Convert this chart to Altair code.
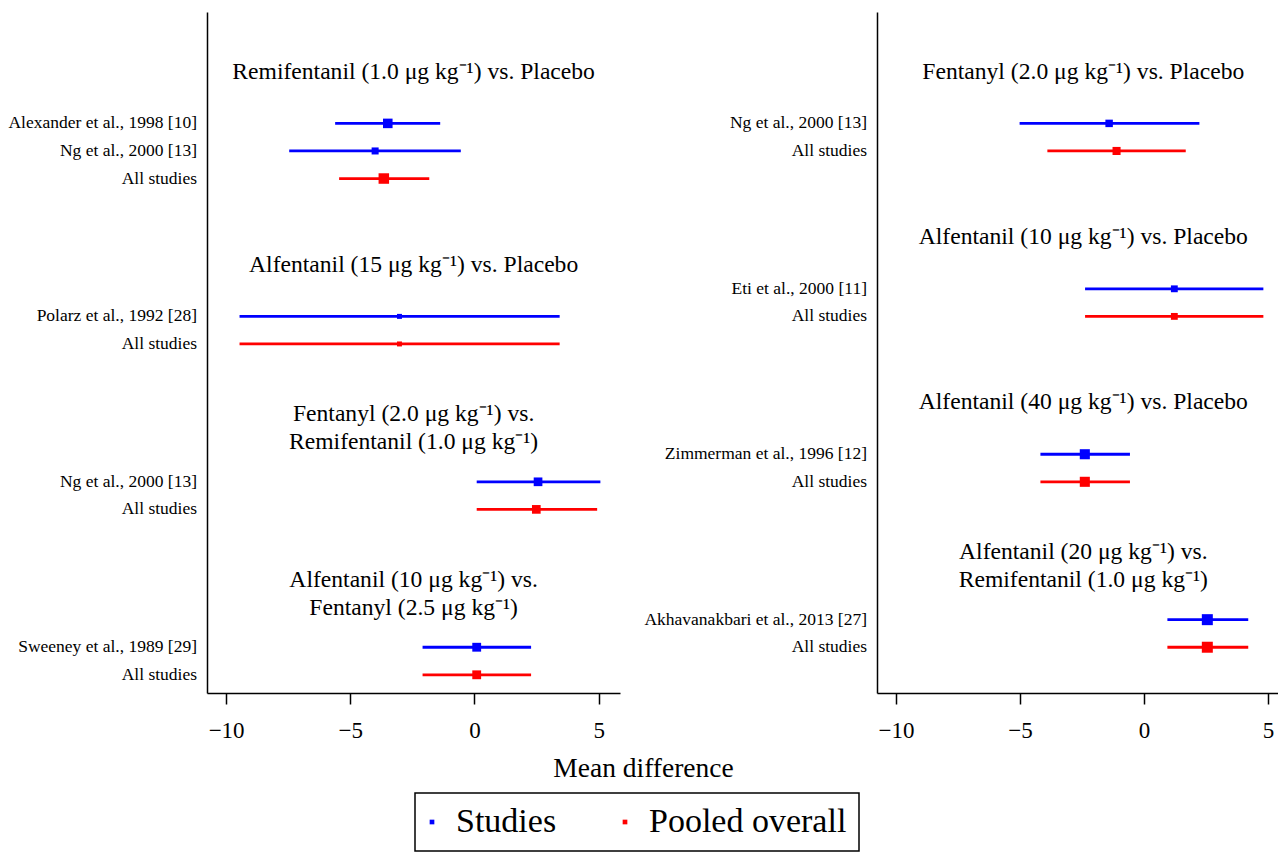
import altair as alt
import pandas as pd

FONT = "Liberation Serif"
BLUE = "#0000ff"
RED = "#ff0000"

# ---------------- data: left panel ----------------
left_titles = [
    "Remifentanil (1.0 μg kg⁻¹) vs. Placebo",
    "Alfentanil (15 μg kg⁻¹) vs. Placebo",
    "Fentanyl (2.0 μg kg⁻¹) vs.\nRemifentanil (1.0 μg kg⁻¹)",
    "Alfentanil (10 μg kg⁻¹) vs.\nFentanyl (2.5 μg kg⁻¹)",
]
left_group = [0, 0, 0, 1, 1, 2, 2, 3, 3]
left_labels = ["Alexander et al., 1998 [10]", "Ng et al., 2000 [13]", "All studies",
               "Polarz et al., 1992 [28]", "All studies",
               "Ng et al., 2000 [13]", "All studies",
               "Sweeney et al., 1989 [29]", "All studies"]
left_kind = ["Studies", "Studies", "Pooled overall",
             "Studies", "Pooled overall",
             "Studies", "Pooled overall",
             "Studies", "Pooled overall"]
left_est = [-3.49, -4.00, -3.65, -3.02, -3.02, 2.56, 2.49, 0.09, 0.09]
left_lo = [-5.61, -7.46, -5.45, -9.46, -9.46, 0.09, 0.09, -2.09, -2.09]
left_hi = [-1.38, -0.55, -1.82, 3.43, 3.43, 5.07, 4.94, 2.28, 2.28]
left_weight = [0.70, 0.38, 0.85, 0.19, 0.19, 0.58, 0.58, 0.60, 0.60]

# ---------------- data: right panel ----------------
right_titles = [
    "Fentanyl (2.0 μg kg⁻¹) vs. Placebo",
    "Alfentanil (10 μg kg⁻¹) vs. Placebo",
    "Alfentanil (40 μg kg⁻¹) vs. Placebo",
    "Alfentanil (20 μg kg⁻¹) vs.\nRemifentanil (1.0 μg kg⁻¹)",
]
right_group = [0, 0, 1, 1, 2, 2, 3, 3]
right_labels = ["Ng et al., 2000 [13]", "All studies",
                "Eti et al., 2000 [11]", "All studies",
                "Zimmerman et al., 1996 [12]", "All studies",
                "Akhavanakbari et al., 2013 [27]", "All studies"]
right_kind = ["Studies", "Pooled overall"] * 4
right_est = [-1.41, -1.11, 1.22, 1.22, -2.39, -2.39, 2.55, 2.55]
right_lo = [-5.02, -3.90, -2.38, -2.38, -4.18, -4.18, 0.94, 0.94]
right_hi = [2.23, 1.68, 4.81, 4.81, -0.57, -0.57, 4.20, 4.20]
right_weight = [0.43, 0.50, 0.36, 0.36, 0.78, 0.78, 0.93, 0.93]

kinds = ["Studies", "Pooled overall"]
kind_colors = [BLUE, RED]

TOP_TITLE = 23.0
Y_DOMAIN = [0.34, 25.04]


def build(titles, group, labels, kind, est, lo, hi, weight):
    recs, trecs = [], []
    cur = TOP_TITLE
    for g, t in enumerate(titles):
        nlines = t.count("\n") + 1
        first = cur - 0.12 if nlines == 1 else cur + 0.45
        trecs.append({"title": t, "y": first})
        r = cur - 2
        for k in range(len(group)):
            if group[k] == g:
                recs.append(dict(label=labels[k], kind=kind[k], est=est[k],
                                 lo=lo[k], hi=hi[k], w=weight[k], y=r))
                r -= 1
        cur = r + 1 - 3
    return pd.DataFrame(recs), pd.DataFrame(trecs)


left_df, left_tdf = build(left_titles, left_group, left_labels, left_kind,
                          left_est, left_lo, left_hi, left_weight)
right_df, right_tdf = build(right_titles, right_group, right_labels, right_kind,
                            right_est, right_lo, right_hi, right_weight)

color_scale = alt.Scale(domain=kinds, range=kind_colors)

legend = alt.Legend(orient="none", legendX=208, legendY=781, direction="horizontal",
                    title=None, symbolType="square", symbolSize=22, symbolStrokeWidth=0,
                    symbolOffset=-12, labelLimit=600,
                    labelFont=FONT, labelFontSize=34, labelColor="black", labelOffset=7,
                    columnPadding=63, padding=12, strokeColor="black",
                    fillColor="white")


def panel(df, tdf, width, domain, show_title):
    x_scale = alt.Scale(domain=domain, nice=False, zero=False)
    y_scale = alt.Scale(domain=Y_DOMAIN, nice=False, zero=False)
    if show_title:
        xaxis = alt.Axis(values=[-10, -5, 0, 5], title="Mean difference",
                         titleX=436, titleY=75, titleAlign="center",
                         titleBaseline="middle", titleFont=FONT, titleFontSize=27.5,
                         titleFontWeight="normal", titleColor="black")
    else:
        xaxis = alt.Axis(values=[-10, -5, 0, 5], title=None)
    yaxis = alt.Axis(labels=False, ticks=False, title=None, grid=False)
    base = alt.Chart(df)
    squares = base.mark_square(opacity=1).encode(
        x=alt.X("est:Q", scale=x_scale, axis=xaxis),
        y=alt.Y("y:Q", scale=y_scale, axis=yaxis),
        color=alt.Color("kind:N", scale=color_scale, legend=legend),
        size=alt.Size("w:Q", scale=alt.Scale(domain=[0, 1], range=[0, 130]), legend=None),
    )
    rules = base.mark_rule(strokeWidth=2.8).encode(
        x="lo:Q",
        x2="hi:Q",
        y="y:Q",
        color=alt.Color("kind:N", scale=color_scale, legend=legend),
    )
    labels = base.mark_text(align="right", baseline="middle", font=FONT,
                            fontSize=17.5, color="black").encode(
        x=alt.value(-10), y="y:Q", text="label:N")
    titles = alt.Chart(tdf).mark_text(align="center", baseline="middle", font=FONT,
                                      fontSize=23.6, lineBreak="\n", lineHeight=28,
                                      color="black").encode(
        x=alt.datum(-2.45), y="y:Q", text="title:N")
    return alt.layer(squares, rules, labels, titles).properties(width=width, height=681)


left = panel(left_df, left_tdf, 413, [-10.77, 5.86], True)
right = panel(right_df, right_tdf, 401, [-10.77, 5.40], False)

chart = (
    alt.hconcat(left, right, spacing=257, bounds="flush")
    .resolve_scale(color="shared")
    .resolve_legend(color="shared")
    .properties(padding={"left": 8, "top": 12, "right": 0, "bottom": 0})
    .configure_view(stroke=None)
    .configure_axis(grid=False, domainColor="black", domainWidth=1.5,
                    tickColor="black", tickWidth=1.5, tickSize=11,
                    labelFont=FONT, labelFontSize=23, labelColor="black",
                    labelPadding=15)
    .configure_legend(strokeWidth=1.5)
)

chart.save("out.html", embed_options={"renderer": "svg", "actions": False})
